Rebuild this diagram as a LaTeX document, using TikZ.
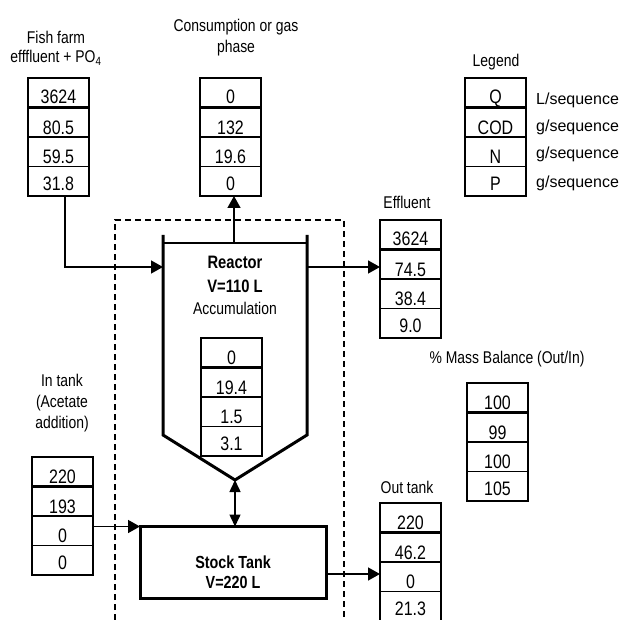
\documentclass[tikz,border=0pt]{standalone}
\usepackage{fontspec}
\setmainfont[FakeStretch=0.82]{Liberation Sans}
\newfontfamily\unitfont{Liberation Sans}
\usetikzlibrary{arrows.meta,calc}

\tikzset{
  cellbox/.style={draw, line width=1.2pt, minimum width=61pt, minimum height=118pt,
                  inner sep=0pt, outer sep=0pt},
  thinsep/.style={line width=1.1pt},
  thicksep/.style={line width=3pt},
  num/.style={font=\fontsize{19.5}{20}\selectfont, anchor=base, inner sep=0pt},
  lbl/.style={font=\fontsize{17}{18}\selectfont, anchor=base, inner sep=0pt},
  boldlbl/.style={font=\fontsize{18}{19}\selectfont\bfseries, anchor=base, inner sep=0pt},
  unitlbl/.style={font=\unitfont\fontsize{16}{17}\selectfont, anchor=base west, inner sep=0pt},
  flow/.style={line width=1.5pt, -{Triangle[length=12pt,width=13pt]}},
  vessel/.style={line width=3pt, line join=miter},
  boundary/.style={line width=1.2pt, dash pattern=on 6pt off 4pt},
}

% stacked four-row data box: name, left x, top y, four values
\newcommand\databox[7]{%
  \node[cellbox] (#1) at (#2+30.5,#3+59) {};
  \draw[thicksep] (#2,#3+29.5) -- (#2+61,#3+29.5);
  \draw[thinsep] (#2,#3+59) -- (#2+61,#3+59);
  \draw[thinsep] (#2,#3+88.5) -- (#2+61,#3+88.5);
  \node[num] at (#2+30.5,#3+26) {#4};
  \node[num] at (#2+30.5,#3+56.5) {#5};
  \node[num] at (#2+30.5,#3+85.5) {#6};
  \node[num] at (#2+30.5,#3+112.5) {#7};
}

\begin{document}
\begin{tikzpicture}[x=1pt,y=-1pt]
\useasboundingbox (0,0) rectangle (621,620);

% control volume
\draw[boundary] (115,620) -- (115,220) -- (344,220) -- (344,620);

% reactor vessel
\draw[vessel] (163,235) -- (163,435) -- (235,480) -- (307,435) -- (307,235);
\draw[line width=1.4pt] (163,243) -- (307,243);
\coordinate (rtop) at (234,243);
\coordinate (rin)  at (163,267);
\coordinate (rout) at (307,267);
\coordinate (rtip) at (235,480);
\node[boldlbl] (rname) at (235,269) {Reactor};
\node[boldlbl] (rvol)  at (235,293) {V=110 L};
\node[lbl]     (racc)  at (235,315) {Accumulation};

% stock tank
\node[draw, line width=3pt, minimum width=186pt, minimum height=71.5pt,
      inner sep=0pt, outer sep=0pt] (stock) at (233,562.25) {};
\node[boldlbl, font=\fontsize{17.5}{18}\selectfont\bfseries] (sname) at (233,568) {Stock Tank};
\node[boldlbl, font=\fontsize{17.5}{18}\selectfont\bfseries] (svol)  at (233,588) {V=220 L};

% data boxes
\databox{fish}{28}{78}{3624}{80.5}{59.5}{31.8}
\databox{gas}{200}{78}{0}{132}{19.6}{0}
\databox{legend}{465}{78}{Q}{COD}{N}{P}
\databox{eff}{380}{220}{3624}{74.5}{38.4}{9.0}
\databox{acc}{201}{338}{0}{19.4}{1.5}{3.1}
\databox{mb}{467}{383}{100}{99}{100}{105}
\databox{intank}{32}{457}{220}{193}{0}{0}
\databox{outtank}{380}{503}{220}{46.2}{0}{21.3}

% captions
\node[lbl] (tfish1) at (56,43.3) {Fish farm};
\node[lbl] (tfish2) at (56,63) {efffluent + PO\textsubscript{4}};
\node[lbl] (tgas1) at (236,31.7) {Consumption or gas};
\node[lbl] (tgas2) at (236,53) {phase};
\node[lbl] (tleg) at (496,66.7) {Legend};
\node[unitlbl] (u1) at (536,105) {L/sequence};
\node[unitlbl] (u2) at (536,131.5) {g/sequence};
\node[unitlbl] (u3) at (536,158.5) {g/sequence};
\node[unitlbl] (u4) at (536,188) {g/sequence};
\node[lbl] (teff) at (407,209) {Effluent};
\node[lbl] (tmb) at (507,363) {\% Mass Balance (Out/In)};
\node[lbl] (tout) at (407,493) {Out tank};
\node[lbl] (tin1) at (62,386) {In tank};
\node[lbl] (tin2) at (62,407) {(Acetate};
\node[lbl] (tin3) at (62,428) {addition)};

% flows
\draw[flow] ($(fish.south)+(6.5,0)$) |- (rin);
\draw[flow] (rtop) -- (rtop |- gas.south);
\draw[flow] (rout) -- (rout -| eff.west);
\draw[line width=1.5pt, {Triangle[length=12pt,width=11pt]}-{Triangle[length=12pt,width=11pt]}]
  (rtip) -- (rtip |- stock.north);
\draw[flow] (intank.east |- stock.north west) -- (stock.north west);
\coordinate (sout) at (326,574);
\draw[flow] (sout) -- (sout -| outtank.west);
\end{tikzpicture}
\end{document}
